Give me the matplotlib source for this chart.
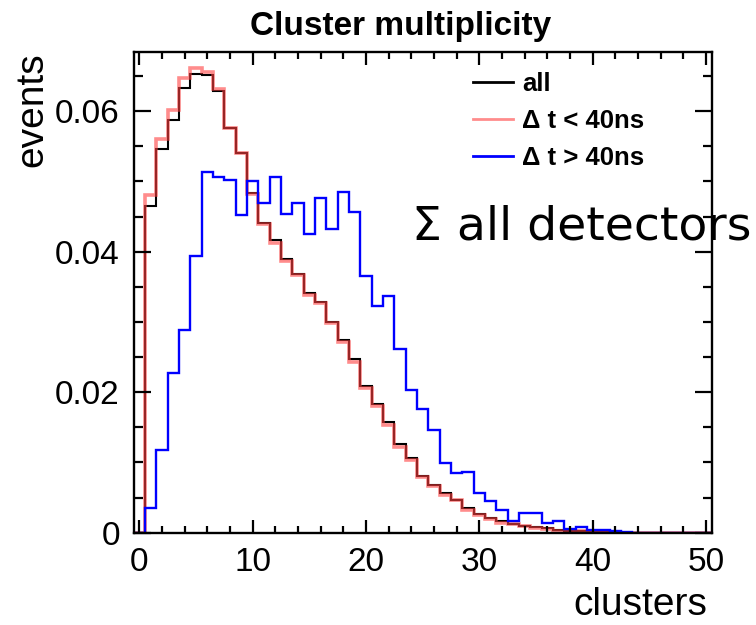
import numpy as np
import matplotlib
matplotlib.use('Agg')
from matplotlib import pyplot as plt
from matplotlib.lines import Line2D
from matplotlib.ticker import MultipleLocator

plt.rcParams['font.family'] = ['Liberation Sans', 'DejaVu Sans']

# cluster multiplicity, one bin per integer count 0..50 (normalised)
edges = np.arange(-0.5, 51.0, 1.0)

all_events = [0, 0.0465, 0.0546, 0.0588, 0.0633, 0.0653, 0.0652, 0.0629, 0.0576, 0.0540,
              0.0484, 0.0441, 0.0416, 0.0389, 0.0368, 0.0341, 0.0329, 0.0300, 0.0275, 0.0247,
              0.0209, 0.0183, 0.0157, 0.0126, 0.0107, 0.0081, 0.0068, 0.0056, 0.0047, 0.0035,
              0.0027, 0.0021, 0.0016, 0.0013, 0.0010, 0.0008, 0.0006, 0.0004, 0.0003, 0.0002,
              0.0002, 0.0001, 0, 0, 0, 0, 0, 0, 0, 0, 0]

dt_below = [0, 0.0481, 0.0561, 0.0602, 0.0647, 0.0662, 0.0656, 0.0631, 0.0576, 0.0541,
            0.0482, 0.0439, 0.0413, 0.0387, 0.0367, 0.0338, 0.0327, 0.0298, 0.0272, 0.0243,
            0.0206, 0.0180, 0.0153, 0.0122, 0.0104, 0.0079, 0.0066, 0.0054, 0.0046, 0.0033,
            0.0025, 0.0019, 0.0014, 0.0012, 0.0009, 0.0007, 0.0005, 0.0003, 0.0002, 0.0002,
            0.0001, 0.0001, 0, 0, 0, 0, 0, 0, 0, 0, 0]

dt_above = [0, 0.0035, 0.0117, 0.0228, 0.0288, 0.0394, 0.0513, 0.0507, 0.0502, 0.0452,
            0.0500, 0.0470, 0.0507, 0.0453, 0.0470, 0.0425, 0.0477, 0.0433, 0.0485, 0.0457,
            0.0366, 0.0322, 0.0337, 0.0262, 0.0203, 0.0176, 0.0146, 0.0099, 0.0085, 0.0086,
            0.0056, 0.0045, 0.0032, 0.0017, 0.0028, 0.0028, 0.0014, 0.0016, 0.0005, 0.0008,
            0.0004, 0.0004, 0.0002, 0.0001, 0, 0, 0, 0, 0, 0, 0]

labels = ['all', '\u0394 t < 40ns', '\u0394 t > 40ns']
colors = ['black', (1.0, 0.25, 0.25, 0.6), '#0000ff']

fig = plt.figure(figsize=(7.56, 6.25), dpi=100)
ax = fig.add_axes([0.1769, 0.1477, 0.7644, 0.7699])

ax.stairs(all_events, edges, color=colors[0], lw=1.5)
ax.stairs(dt_below, edges, color=colors[1], lw=2.6)
ax.stairs(dt_above, edges, color=colors[2], lw=1.7)

ax.set_xlim(-0.5, 50.5)
ax.set_ylim(0, 0.0685)

ax.set_xticks([0, 10, 20, 30, 40, 50])
ax.xaxis.set_minor_locator(MultipleLocator(2))
ax.set_yticks([0, 0.02, 0.04, 0.06])
ax.set_yticklabels(['0', '0.02', '0.04', '0.06'])
ax.yaxis.set_minor_locator(MultipleLocator(0.005))

ax.tick_params(axis='both', which='both', direction='in', top=True, right=True,
               labelsize=24, width=1.6)
ax.tick_params(axis='x', which='major', length=9.5, pad=10)
ax.tick_params(axis='x', which='minor', length=5)
ax.tick_params(axis='y', which='major', length=12.5, pad=10)
ax.tick_params(axis='y', which='minor', length=6.5)
for side in ax.spines.values():
    side.set_linewidth(1.7)

handles = [Line2D([], [], color=c, lw=2) for c in colors]
ax.legend(handles, labels, loc='upper left', bbox_to_anchor=(0.6257, 0.8848),
          bbox_transform=fig.transFigure, frameon=False, borderpad=0, borderaxespad=0,
          handlelength=1.55, handletextpad=0.35, labelspacing=0.5,
          prop={'weight': 'bold', 'size': 18.5})

fig.text(0.53, 0.958, 'Cluster multiplicity', ha='center', va='center',
         fontsize=24, fontweight='bold')
fig.text(32 / 756, 1 - 52 / 625, 'events', rotation=90, ha='center', va='top', fontsize=28)
fig.text(707 / 756, 1 - 615 / 625, 'clusters', ha='right', va='baseline', fontsize=28)
fig.text(412 / 756, 1 - 240 / 625, '\u03a3 all detectors', family='DejaVu Sans',
         ha='left', va='baseline', fontsize=34)

fig.savefig('out.png', dpi=100)
